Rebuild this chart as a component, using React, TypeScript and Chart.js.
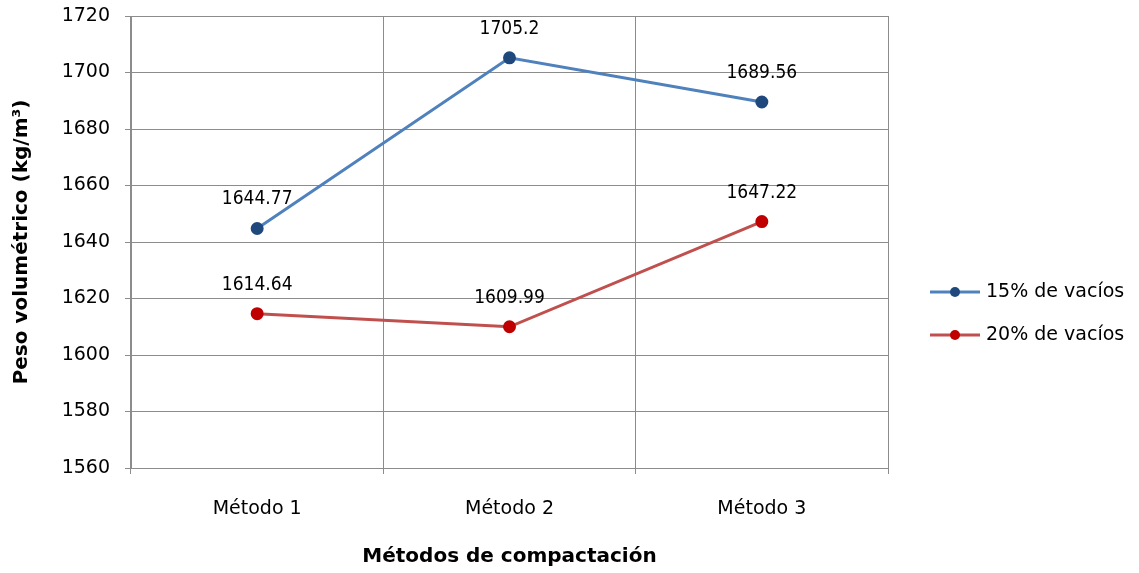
import React, { useEffect, useRef } from "react";
import { Chart, registerables } from "chart.js";

Chart.register(...registerables);

const categories = ["Método 1", "Método 2", "Método 3"];
const series15 = [1644.77, 1705.2, 1689.56];
const series20 = [1614.64, 1609.99, 1647.22];
const labels15 = ["1644.77", "1705.2", "1689.56"];
const labels20 = ["1614.64", "1609.99", "1647.22"];
const seriesNames = ["15% de vacíos", "20% de vacíos"];
const yMin = 1560;
const yMax = 1720;
const yStep = 20;

const GRID = "#8c8c8c";
const FONT = "'DejaVu Sans', sans-serif";
const LABEL_FONT = "'DejaVu Sans Condensed', 'DejaVu Sans', sans-serif";

const dataLabelPlugin = {
  id: "dataLabels",
  afterDatasetsDraw(chart: any) {
    const ctx = chart.ctx;
    const all = [labels15, labels20];
    ctx.save();
    ctx.font = "19px " + LABEL_FONT;
    ctx.fillStyle = "#000";
    ctx.textAlign = "center";
    ctx.textBaseline = "middle";
    chart.data.datasets.forEach((ds: any, di: number) => {
      const meta = chart.getDatasetMeta(di);
      meta.data.forEach((pt: any, i: number) => {
        ctx.fillText(all[di][i], pt.x, pt.y - 29);
      });
    });
    ctx.restore();
  },
};

const legendPlugin = {
  id: "sideLegend",
  afterDraw(chart: any) {
    const ctx = chart.ctx;
    const x0 = 930;
    const ys = [292, 335];
    ctx.save();
    chart.data.datasets.forEach((ds: any, i: number) => {
      const y = ys[i];
      ctx.strokeStyle = ds.borderColor;
      ctx.lineWidth = 3;
      ctx.beginPath();
      ctx.moveTo(x0, y);
      ctx.lineTo(x0 + 50, y);
      ctx.stroke();
      ctx.fillStyle = ds.pointBackgroundColor;
      ctx.beginPath();
      ctx.arc(x0 + 25, y, 5, 0, Math.PI * 2);
      ctx.fill();
      ctx.fillStyle = "#000";
      ctx.font = "19px " + FONT;
      ctx.textAlign = "left";
      ctx.textBaseline = "middle";
      ctx.fillText(ds.label, x0 + 56, y);
    });
    ctx.restore();
  },
};

export default function App() {
  const ref = useRef<HTMLCanvasElement | null>(null);
  useEffect(() => {
    document.body.style.margin = "0";
    const chart = new Chart(ref.current as HTMLCanvasElement, {
      type: "line",
      data: {
        labels: categories,
        datasets: [
          {
            label: seriesNames[0],
            data: series15,
            borderColor: "#4f81bd",
            backgroundColor: "#4f81bd",
            pointBackgroundColor: "#1f497d",
            pointBorderColor: "#1f497d",
            pointRadius: 5,
            borderWidth: 3,
            tension: 0,
          },
          {
            label: seriesNames[1],
            data: series20,
            borderColor: "#c0504d",
            backgroundColor: "#c0504d",
            pointBackgroundColor: "#c00000",
            pointBorderColor: "#c00000",
            pointRadius: 5,
            borderWidth: 3,
            tension: 0,
          },
        ],
      },
      options: {
        animation: false,
        responsive: false,
        layout: { padding: { left: 0, right: 251, top: 16, bottom: 0 } },
        plugins: {
          legend: { display: false },
          tooltip: { enabled: false },
        },
        scales: {
          x: {
            type: "category",
            offset: true,
            grid: { offset: true, color: GRID, tickLength: 6, lineWidth: 1 },
            border: { color: GRID },
            ticks: { color: "#000", font: { family: FONT, size: 19 }, padding: 24 },
            title: {
              display: true,
              text: "Métodos de compactación",
              color: "#000",
              font: { family: FONT, size: 20, weight: "bold" },
              padding: { top: 4, bottom: 4 },
            },
            afterFit(scale: any) {
              scale.height = 105;
              scale.paddingLeft = 0;
              scale.paddingRight = 0;
            },
          },
          y: {
            min: yMin,
            max: yMax,
            ticks: {
              stepSize: yStep,
              color: "#000",
              font: { family: FONT, size: 19 },
              padding: 15,
              callback: (v: any) => String(v),
            },
            grid: { color: GRID, tickLength: 6, lineWidth: 1 },
            border: { color: GRID },
            title: {
              display: true,
              text: "Peso volumétrico (kg/m³)",
              color: "#000",
              font: { family: FONT, size: 20, weight: "bold" },
              padding: { top: 10, bottom: 4 },
            },
            afterFit(scale: any) {
              scale.width = 131;
              scale.paddingTop = 0;
              scale.paddingBottom = 0;
            },
          },
        },
      },
      plugins: [dataLabelPlugin, legendPlugin],
    });
    return () => chart.destroy();
  }, []);
  return <canvas ref={ref} width={1139} height={573} style={{ display: "block" }} />;
}
